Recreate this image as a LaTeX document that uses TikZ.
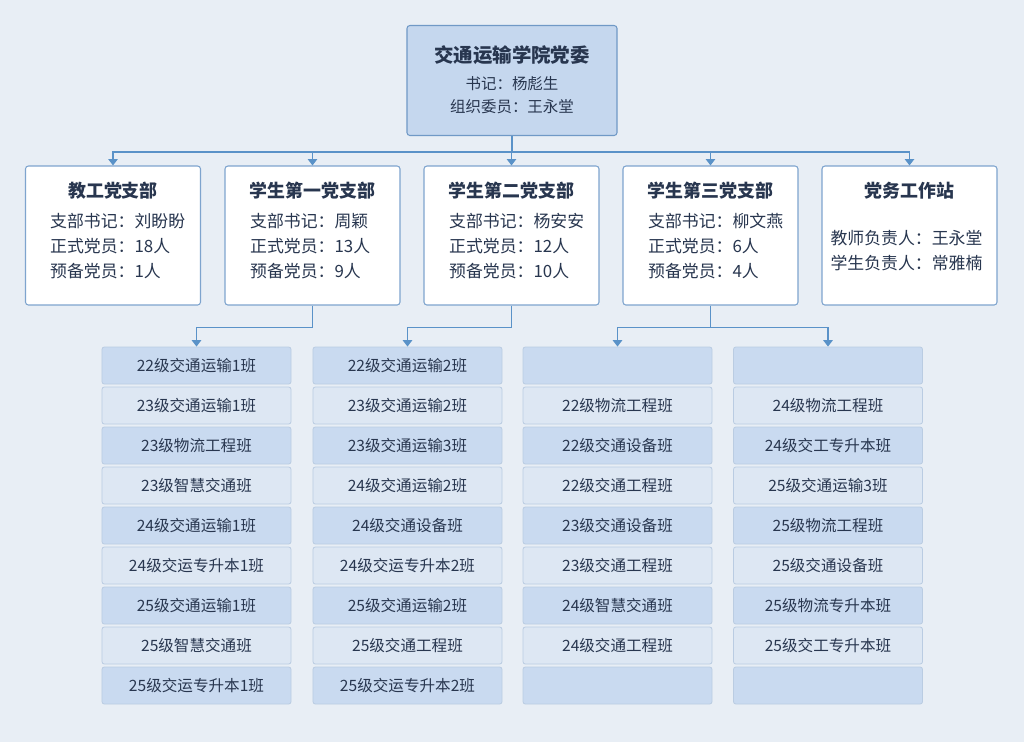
\documentclass[tikz,border=0pt]{standalone}
\usepackage{fontspec}
\setmainfont{Noto Sans CJK SC}
\usetikzlibrary{arrows.meta}

\definecolor{bgcol}{HTML}{E8EEF5}
\definecolor{linecol}{HTML}{5A92C8}
\definecolor{topfill}{HTML}{C5D7EE}
\definecolor{topdraw}{HTML}{7099C6}
\definecolor{branchdraw}{HTML}{7EA4CE}
\definecolor{classdark}{HTML}{C9DAF0}
\definecolor{classlight}{HTML}{DDE7F3}
\definecolor{classdraw}{HTML}{BACCE2}
\definecolor{textcol}{HTML}{28364F}

\tikzset{
  link/.style={draw=linecol, line width=1.4pt, -{Triangle[width=8pt,length=5.5pt]}},
  topbox/.style={draw=topdraw, fill=topfill, line width=0.9pt, rounded corners=2.5pt,
    minimum width=6.3cm, minimum height=3.3cm},
  branch/.style={draw=branchdraw, fill=white, line width=0.9pt, rounded corners=2.5pt,
    minimum width=5.25cm, minimum height=4.17cm},
  classbox/.style={draw=classdraw, line width=0.7pt, rounded corners=2pt,
    minimum width=5.67cm, minimum height=1.11cm, text=textcol,
    font=\fontsize{13.3}{16}\selectfont},
  toptitle/.style={text=textcol, inner sep=0pt, font=\bfseries\fontsize{16.6}{20}\selectfont},
  topinfo/.style={text=textcol, inner sep=0pt, font=\fontsize{13.2}{19.6}\selectfont},
  btitle/.style={text=textcol, inner sep=0pt, font=\bfseries\fontsize{15.3}{18}\selectfont},
  binfo/.style={text=textcol, inner sep=0pt, align=left, font=\fontsize{14.4}{21.3}\selectfont}
}

\begin{document}
\begin{tikzpicture}[x=0.03cm, y=-0.03cm]
\fill[bgcol] (0,0) rectangle (1024,742);

\node[topbox] (dw) at (512,80.5) {};
\node[toptitle] at (512,55) {交通运输学院党委};
\node[topinfo] at (512,84) {书记：杨彪生};
\node[topinfo] at (512,107) {组织委员：王永堂};

\node[branch] (b1) at (113,235.5) {};
\node[btitle] at (113,191) {教工党支部};
\node[binfo, anchor=west] at (50,246) {支部书记：刘盼盼\\正式党员：18人\\预备党员：1人};

\node[branch] (b2) at (312.5,235.5) {};
\node[btitle] at (312.5,191) {学生第一党支部};
\node[binfo, anchor=west] at (250,246) {支部书记：周颖\\正式党员：13人\\预备党员：9人};

\node[branch] (b3) at (511.5,235.5) {};
\node[btitle] at (511.5,191) {学生第二党支部};
\node[binfo, anchor=west] at (449,246) {支部书记：杨安安\\正式党员：12人\\预备党员：10人};

\node[branch] (b4) at (710.5,235.5) {};
\node[btitle] at (710.5,191) {学生第三党支部};
\node[binfo, anchor=west] at (648,246) {支部书记：柳文燕\\正式党员：6人\\预备党员：4人};

\node[branch] (b5) at (909.5,235.5) {};
\node[btitle] at (909.5,191) {党务工作站};
\node[binfo] at (906.5,250.5) {教师负责人：王永堂\\学生负责人：常雅楠};

\foreach \b in {b1,b2,b3,b4,b5}
  \draw[link] (dw.south) -- ++(0,16) -| (\b.north);

\foreach \name [count=\i from 0] in {22级交通运输1班,23级交通运输1班,23级物流工程班,23级智慧交通班,24级交通运输1班,24级交运专升本1班,25级交通运输1班,25级智慧交通班,25级交运专升本1班} {
  \pgfmathtruncatemacro\odd{mod(\i,2)}
  \ifnum\odd=0 \def\fc{classdark}\else\def\fc{classlight}\fi
  \node[classbox, fill=\fc] (ca\i) at (196.5,365.5+40*\i) {\name};
}
\foreach \name [count=\i from 0] in {22级交通运输2班,23级交通运输2班,23级交通运输3班,24级交通运输2班,24级交通设备班,24级交运专升本2班,25级交通运输2班,25级交通工程班,25级交运专升本2班} {
  \pgfmathtruncatemacro\odd{mod(\i,2)}
  \ifnum\odd=0 \def\fc{classdark}\else\def\fc{classlight}\fi
  \node[classbox, fill=\fc] (cb\i) at (407.5,365.5+40*\i) {\name};
}
\foreach \name [count=\i from 0] in {{},22级物流工程班,22级交通设备班,22级交通工程班,23级交通设备班,23级交通工程班,24级智慧交通班,24级交通工程班,{}} {
  \pgfmathtruncatemacro\odd{mod(\i,2)}
  \ifnum\odd=0 \def\fc{classdark}\else\def\fc{classlight}\fi
  \node[classbox, fill=\fc] (cc\i) at (617.5,365.5+40*\i) {\name};
}
\foreach \name [count=\i from 0] in {{},24级物流工程班,24级交工专升本班,25级交通运输3班,25级物流工程班,25级交通设备班,25级物流专升本班,25级交工专升本班,{}} {
  \pgfmathtruncatemacro\odd{mod(\i,2)}
  \ifnum\odd=0 \def\fc{classdark}\else\def\fc{classlight}\fi
  \node[classbox, fill=\fc] (cd\i) at (828,365.5+40*\i) {\name};
}

\draw[link] (b2.south) -- ++(0,22) -| (ca0.north);
\draw[link] (b3.south) -- ++(0,22) -| (cb0.north);
\draw[link] (b4.south) -- ++(0,22) -| (cc0.north);
\draw[link] (b4.south) -- ++(0,22) -| (cd0.north);
\end{tikzpicture}
\end{document}
